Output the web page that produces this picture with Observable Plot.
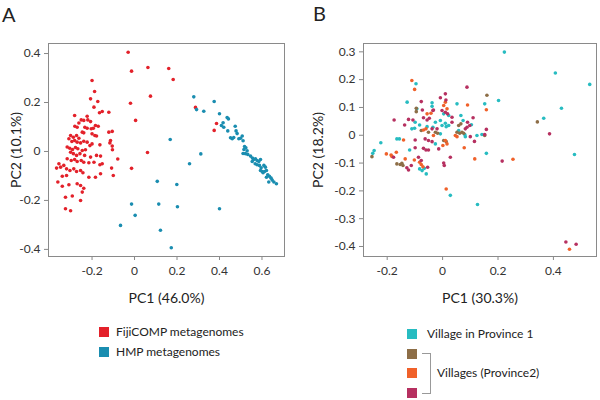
<!DOCTYPE html>
<html>
<head>
<meta charset="utf-8">
<script src="https://cdn.jsdelivr.net/npm/d3@7"></script>
<script src="https://cdn.jsdelivr.net/npm/@observablehq/plot@0.6"></script>
<style>
  html, body { margin:0; padding:0; background:#fff; }
  #wrap { position:relative; width:600px; height:400px; overflow:hidden; font-family: Lato, "Open Sans", sans-serif; color:#222; }
  .panel { position:absolute; top:0; }
  .panel svg { overflow: visible; }
  .panel g[aria-label="x-axis label"] text, .panel g[aria-label="y-axis label"] text { font-size:14px; fill:#222; }
  .panel g[aria-label="x-axis tick"], .panel g[aria-label="y-axis tick"] { stroke:#888; }
  .panel g[aria-label="x-axis tick label"] text, .panel g[aria-label="y-axis tick label"] text { fill:#333; }
  .letter { position:absolute; font-size:20px; line-height:20px; }
  .sw { position:absolute; width:10px; height:10px; }
  .lt { position:absolute; font-size:12px; line-height:14px; white-space:nowrap; }
  .bracket { position:absolute; border:1px solid #999; border-left:none; }
</style>
</head>
<body>
<div id="wrap"></div>
<script>
// ---------- Panel A data ----------
const fijiPoints = [
  [-0.03,0.405],[-0.014,0.328],[0.063,0.343],[0.161,0.339],[0.182,0.294],[0.075,0.226],[-0.019,0.197],
  [0.005,0.127],[0.061,-0.004],[-0.014,-0.069],[-0.10,-0.098],[-0.079,-0.031],[-0.104,0.007],[-0.113,0.045],
  [0.287,0.18],[0.386,0.114],[0.375,0.086],
  [-0.2,0.29],[-0.188,0.245],[-0.207,0.215],[-0.173,0.204],[-0.191,0.181],[-0.152,0.163],[-0.165,0.158],
  [-0.121,0.160],[-0.282,0.147],[-0.223,0.144],[-0.251,0.129],[-0.239,0.127],[-0.22,0.129],[-0.207,0.122],
  [-0.262,0.116],[-0.184,0.106],[-0.171,0.103],[-0.281,0.103],[-0.27,0.099],[-0.234,0.099],[-0.223,0.095],
  [-0.204,0.093],[-0.194,0.095],[-0.121,0.079],[-0.105,0.082],[-0.246,0.079],[-0.239,0.076],[-0.2,0.072],
  [-0.187,0.065],[-0.179,0.063],[-0.301,0.065],[-0.309,0.052],[-0.288,0.058],[-0.273,0.065],[-0.262,0.054],
  [-0.295,0.041],[-0.282,0.045],[-0.27,0.038],[-0.254,0.035],[-0.239,0.042],[-0.223,0.038],[-0.2,0.031],
  [-0.21,0.024],[-0.163,0.027],[-0.116,0.035],[-0.105,0.022],[-0.317,0.018],[-0.305,0.013],[-0.292,0.008],
  [-0.278,0.016],[-0.267,0.011],[-0.246,0.004],[-0.231,0.007],[-0.301,-0.003],[-0.288,-0.009],[-0.273,-0.016],
  [-0.257,-0.009],[-0.235,-0.016],[-0.207,-0.023],[-0.179,-0.016],[-0.16,-0.019],[-0.317,-0.03],[-0.298,-0.037],
  [-0.282,-0.033],[-0.27,-0.041],[-0.251,-0.037],[-0.239,-0.044],[-0.215,-0.046],[-0.191,-0.044],[-0.163,-0.054],
  [-0.152,-0.05],[-0.108,-0.068],[-0.356,-0.05],[-0.367,-0.068],[-0.348,-0.064],[-0.333,-0.057],[-0.32,-0.071],
  [-0.304,-0.078],[-0.286,-0.071],[-0.273,-0.082],[-0.254,-0.078],[-0.243,-0.087],[-0.215,-0.105],[-0.184,-0.105],
  [-0.16,-0.091],[-0.34,-0.101],[-0.32,-0.098],[-0.361,-0.125],[-0.309,-0.136],[-0.27,-0.132],[-0.254,-0.139],
  [-0.239,-0.15],[-0.246,-0.166],[-0.34,-0.142],[-0.325,-0.187],[-0.293,-0.182],[-0.254,-0.2],[-0.325,-0.234],
  [-0.301,-0.242]
];
const hmpPoints = [
  [0.279,0.223],[0.292,0.171],[0.326,0.164],[0.375,0.204],[0.40,0.154],[0.168,0.049],[0.312,-0.01],[0.259,-0.05],
  [0.107,-0.122],[0.199,-0.135],[-0.014,-0.215],[0.114,-0.215],[0.202,-0.226],[0.40,-0.234],[0.003,-0.261],
  [-0.066,-0.302],[0.122,-0.322],[0.173,-0.393],
  [0.436,0.139],[0.442,0.133],[0.417,0.117],[0.409,0.106],[0.42,0.099],[0.474,0.103],[0.439,0.084],[0.478,0.084],
  [0.483,0.073],[0.507,0.063],[0.452,0.056],[0.46,0.052],[0.467,0.057],[0.491,0.052],[0.499,0.054],[0.511,0.044],
  [0.518,0.020],[0.524,0.015],[0.515,0.008],[0.53,0.003],[0.511,-0.008],[0.522,-0.009],[0.533,-0.012],[0.546,-0.019],
  [0.555,-0.027],[0.561,-0.033],[0.569,-0.030],[0.577,-0.037],[0.585,-0.041],[0.593,-0.033],[0.554,-0.041],
  [0.568,-0.05],[0.577,-0.054],[0.588,-0.057],[0.596,-0.067],[0.609,-0.057],[0.616,-0.064],[0.593,-0.078],
  [0.601,-0.082],[0.605,-0.087],[0.612,-0.082],[0.621,-0.078],[0.627,-0.095],[0.635,-0.101],[0.643,-0.109],
  [0.648,-0.117],[0.656,-0.125],[0.668,-0.132],[0.632,-0.125],[0.621,-0.105]
];
const xTicksA = [-0.2, 0, 0.2, 0.4, 0.6];
const yTicksA = [-0.4, -0.2, 0, 0.2, 0.4];
const labelsA = ["FijiCOMP metagenomes", "HMP metagenomes"];
const colorsA = ["#e3212a", "#1a8db0"];

// ---------- Panel B data ----------
const province1Points = [
  [0.223,0.299],[0.407,0.224],[0.531,0.183],[0.429,0.097],[0.365,0.061],[0.476,-0.069],[0.202,0.125],[0.152,0.113],
  [0.158,-0.065],[0.124,-0.001],[0.142,0.003],[0.126,-0.249],[0.028,-0.216],[0.052,0.113],[-0.223,-0.027],
  [-0.247,-0.055],[-0.252,-0.065],[-0.165,-0.013],[-0.128,0.119],[-0.096,0.185],[-0.093,0.095],[-0.038,0.117],
  [-0.038,0.104],[-0.099,0.047],[-0.083,0.037],[-0.111,0.023],[-0.101,0.025],[-0.056,0.031],[-0.035,0.029],
  [-0.156,-0.013],[-0.119,-0.053],[-0.083,-0.121],[-0.074,-0.127],[-0.066,-0.119],[-0.059,-0.139],[0.004,0.077],
  [0.022,0.071],[0.066,0.071],[0.074,0.053],[-0.026,0.047],[-0.008,0.053],[0.01,0.043],[0.022,0.035],[0.104,0.038],
  [-0.002,0.035],[0.013,0.031],[-0.008,0.005],[0.058,0.017],[0.08,0.003],[0.082,-0.005],[-0.026,-0.031]
];
const villageBrownPoints = [
  [0.16,0.144],[-0.095,0.097],[-0.095,0.085],[-0.077,0.017],[-0.051,0.011],[-0.255,-0.077],[-0.165,-0.103],
  [-0.153,-0.105],[-0.147,-0.101],[-0.143,-0.109],[0.066,0.041],[0.058,0.035],[-0.026,0.011],[-0.018,0.007],
  [0.052,0.011],[0.062,0.007],[0.07,0.011],[0.076,0.007],[0.152,-0.001],[0.004,-0.019],[0.013,-0.023],[0.342,0.048]
];
const villageOrangePoints = [
  [-0.111,0.197],[-0.101,0.165],[-0.056,0.077],[-0.042,0.079],[-0.069,0.019],[-0.06,0.023],[-0.141,-0.017],
  [-0.203,-0.067],[-0.186,-0.071],[-0.183,-0.076],[-0.167,-0.061],[-0.135,-0.085],[-0.102,-0.089],[-0.083,-0.097],
  [-0.077,-0.105],[-0.071,-0.113],[0.158,0.092],[0.09,0.109],[0.01,0.119],[0.004,0.107],[0.016,0.095],
  [-0.033,-0.001],[0.046,-0.001],[0.052,-0.005],[0.01,-0.019],[0.016,-0.031],[0.001,-0.037],[0.078,-0.045],
  [0.116,-0.085],[0.013,-0.193],[0.254,-0.086],[0.458,-0.41]
];
const villageCrimsonPoints = [
  [-0.077,0.121],[-0.073,0.091],[-0.035,0.089],[-0.175,0.055],[-0.137,0.037],[-0.123,0.057],[-0.107,0.055],
  [-0.069,0.063],[-0.056,0.055],[-0.048,0.061],[-0.099,-0.017],[-0.063,-0.013],[-0.051,-0.019],[-0.038,-0.023],
  [-0.099,-0.045],[-0.069,-0.047],[-0.06,-0.053],[-0.051,-0.053],[-0.177,-0.079],[-0.129,-0.117],[-0.123,-0.125],
  [-0.113,-0.109],[-0.087,-0.079],[-0.077,-0.091],[-0.054,-0.115],[0.088,0.173],[-0.008,0.135],[0.01,0.149],
  [0.012,0.127],[-0.002,0.089],[0.01,0.083],[0.018,0.077],[-0.033,0.091],[0.034,0.065],[0.11,0.063],[0.034,0.047],
  [0.09,0.047],[0.098,0.035],[0.082,0.023],[0.088,0.029],[-0.038,0.023],[-0.02,0.023],[0.1,-0.005],[0.158,0.021],
  [0.152,0.003],[-0.014,-0.049],[0.115,-0.022],[0.028,-0.079],[0.004,-0.1],[0.006,-0.109],[0.215,-0.093],
  [0.386,0.005],[0.445,-0.384],[0.482,-0.392]
];
const xTicksB = [-0.2, 0, 0.2, 0.4];
const yTicksB = [-0.4, -0.3, -0.2, -0.1, 0, 0.1, 0.2, 0.3];
const labelsB = ["Village in Province 1", "Villages (Province2)"];
const colorsB = ["#27bcc1", "#8d6e47", "#f0612a", "#b63060"];

const fmt = d => String(d);
const wrap = document.getElementById("wrap");

function panel(opts) {
  const tag = (pts, g) => pts.map(([x, y]) => ({x, y, g}));
  const data = opts.series.flatMap((s, i) => tag(s, i));
  const plot = Plot.plot({
    width: 300, height: 320,
    marginLeft: opts.ml, marginRight: opts.mr, marginTop: 43, marginBottom: 64,
    style: {fontFamily: "Lato, 'Open Sans', sans-serif", fontSize: "12px", background: "transparent", overflow: "visible"},
    x: {domain: opts.xd, ticks: opts.xt, tickFormat: fmt, tickSize: 4, tickPadding: 6,
        label: opts.xl, labelAnchor: "center", labelOffset: 46, labelArrow: "none"},
    y: {domain: opts.yd, ticks: opts.yt, tickFormat: fmt, tickSize: 4, tickPadding: 4,
        label: opts.yl, labelAnchor: "center", labelOffset: opts.ylo, labelArrow: "none"},
    color: {domain: opts.series.map((_, i) => i), range: opts.colors},
    marks: [
      Plot.frame({stroke: "#8a8a8a"}),
      Plot.dot(data, {x: "x", y: "y", fill: "g", r: 1.8, stroke: null})
    ]
  });
  const div = document.createElement("div");
  div.className = "panel";
  div.style.left = opts.left + "px";
  div.appendChild(plot);
  wrap.appendChild(div);
}

panel({left: 0, ml: 48, mr: 16, xd: [-0.405, 0.706], yd: [-0.429, 0.441], xt: xTicksA, yt: yTicksA,
  xl: "PC1 (46.0%)", yl: "PC2 (10.1%)", ylo: 37, series: [fijiPoints, hmpPoints], colors: colorsA});
panel({left: 300, ml: 63, mr: 4, xd: [-0.2855, 0.5555], yd: [-0.436, 0.33], xt: xTicksB, yt: yTicksB,
  xl: "PC1 (30.3%)", yl: "PC2 (18.2%)", ylo: 50,
  series: [province1Points, villageBrownPoints, villageOrangePoints, villageCrimsonPoints], colors: colorsB});

function el(cls, css, text) {
  const d = document.createElement("div");
  d.className = cls;
  Object.assign(d.style, css);
  if (text) d.textContent = text;
  wrap.appendChild(d);
  return d;
}
el("letter", {left: "2px", top: "4px"}, "A");
el("letter", {left: "313px", top: "3px"}, "B");

// Legend A
labelsA.forEach((t, i) => {
  el("sw", {left: "99px", top: (327 + i * 19.5) + "px", background: colorsA[i]});
  el("lt", {left: "116px", top: (325 + i * 19.5) + "px"}, t);
});
// Legend B
colorsB.forEach((c, i) => {
  el("sw", {left: "407px", top: (329 + i * 19.5) + "px", background: c});
});
el("lt", {left: "427px", top: "327px"}, labelsB[0]);
el("bracket", {left: "422px", top: "353px", width: "8px", height: "39px"});
el("lt", {left: "437px", top: "366px"}, labelsB[1]);
</script>
</body>
</html>
